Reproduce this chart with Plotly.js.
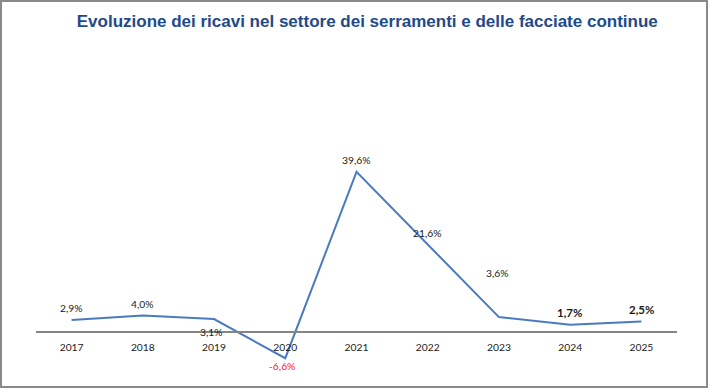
<!DOCTYPE html>
<html>
<head>
<meta charset="utf-8">
<script src="https://cdn.plot.ly/plotly-3.0.1.min.js"></script>
<style>
  html, body { margin: 0; padding: 0; background: #fff; }
  #frame { position: relative; width: 708px; height: 388px; box-sizing: border-box;
           border: 2px solid #8a8a8a; }
  #chart { position: absolute; left: -2px; top: -2px; width: 709px; height: 388px; }
</style>
</head>
<body>
<div id="frame"><div id="chart"></div></div>
<script>
// ---- data ----
const years = ["2017", "2018", "2019", "2020", "2021", "2022", "2023", "2024", "2025"];
const growth = [2.9, 4.0, 3.1, -6.6, 39.6, 21.6, 3.6, 1.7, 2.5];
const chartTitle = "Evoluzione dei ricavi nel settore dei serramenti e delle facciate continue";

// ---- label placement (pixel offsets) and emphasis ----
const labelShiftY = [12, 11.5, -12.5, -8, 12, 11.7, 43.7, 12.3, 12.4];
const labelShiftX = [0, 0, -3, -3, 0, 0, -1, -1, 0];
const labelBold   = [false, false, false, false, false, false, false, true, true];

const yRange = [-12, 48];
const fmt = v => v.toFixed(1).replace('.', ',') + '%';

const annotations = years.map((yr, i) => ({
  x: i, y: growth[i], xref: 'x', yref: 'y',
  text: labelBold[i] ? '<b>' + fmt(growth[i]) + '</b>' : fmt(growth[i]),
  showarrow: false,
  yshift: labelShiftY[i], xshift: labelShiftX[i],
  font: {
    family: 'Lato, sans-serif',
    size: labelBold[i] ? 11.5 : 10.3,
    color: growth[i] < 0 ? '#ff2020' : '#1a1a1a'
  }
}));

const trace = {
  x: years, y: growth, type: 'scatter', mode: 'lines',
  line: { color: '#4a7bc0', width: 2 },
  hoverinfo: 'skip'
};

const layout = {
  width: 709, height: 388,
  margin: { l: 36, r: 32, t: 138, b: 8 },
  paper_bgcolor: 'rgba(0,0,0,0)', plot_bgcolor: 'rgba(0,0,0,0)',
  showlegend: false,
  title: {
    text: '<b>' + chartTitle + '</b>',
    x: 0.518, xanchor: 'center', y: 0.946, yanchor: 'middle', yref: 'container',
    font: { family: 'Liberation Sans Narrow, Liberation Sans, sans-serif', size: 17, color: '#1f4a8a' }
  },
  xaxis: {
    type: 'category', range: [-0.5, 8.5],
    anchor: 'free', position: (0 - yRange[0]) / (yRange[1] - yRange[0]),
    showline: true, linecolor: '#858585', linewidth: 2,
    showgrid: false, zeroline: false, ticks: '', ticklabelstandoff: 6,
    tickfont: { family: 'Lato, sans-serif', size: 10.3, color: '#1a1a1a' },
    fixedrange: true
  },
  yaxis: {
    range: yRange, visible: false, showgrid: false, zeroline: false, fixedrange: true
  },
  annotations: annotations
};

Plotly.newPlot('chart', [trace], layout, { displayModeBar: false, staticPlot: true });
</script>
</body>
</html>
